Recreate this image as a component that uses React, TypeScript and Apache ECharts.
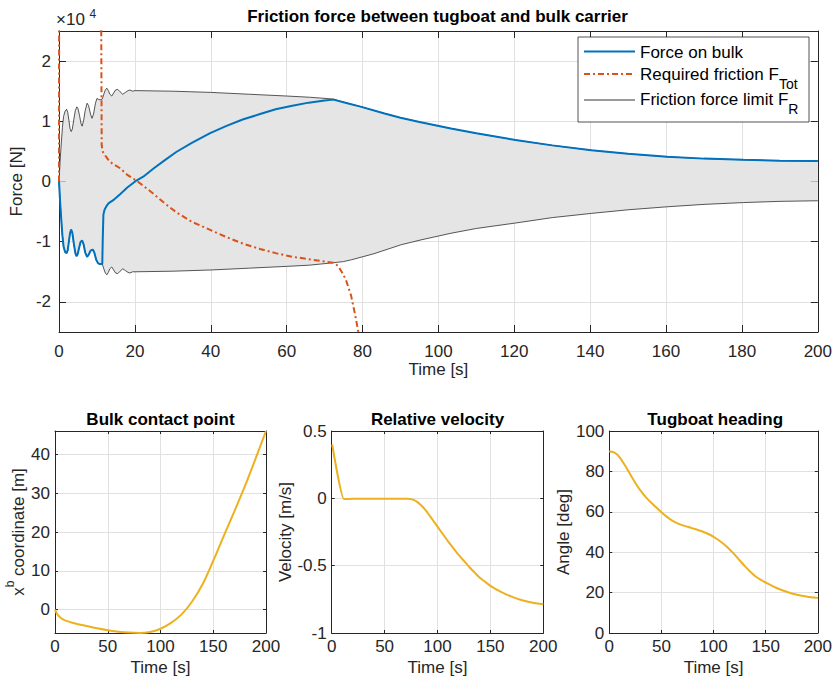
import React, { useEffect, useRef } from 'react';
import * as echarts from 'echarts';

const FONT = '"Liberation Sans", Arial, Helvetica, sans-serif';
const AX = '#262626';
const GRID = '#e1e1e1';

// ---- Top panel: friction force (N) ----
const bulkT = [0, 0.3, 0.6, 0.9, 1.2, 1.6, 2.0, 2.3, 2.6, 2.9, 3.2, 3.5, 3.9, 4.3, 4.6, 4.9, 5.3, 5.7, 6.1, 6.5, 6.9, 7.4, 7.8, 8.3, 8.9, 9.3, 9.8, 10.3, 10.8, 11.4, 11.55, 11.7, 12.0, 12.5, 13.1, 14.5, 16.1, 18, 20.5, 22.2, 25, 28, 30.9, 35, 39.7, 44, 48.4, 53, 57.1, 61.5, 65.8, 70, 72.3, 76, 79.7, 85.8, 90, 95, 103.3, 110, 120.3, 130, 140.3, 150, 160.3, 170, 180.4, 190, 200];
const bulkF = [0, -3500, -6400, -9000, -10800, -11700, -11900, -11400, -10000, -8600, -8000, -8500, -10300, -11900, -12400, -12100, -11000, -10000, -9800, -10500, -11800, -12500, -12200, -11500, -11300, -11800, -13000, -13600, -13700, -13700, -9000, -5500, -4700, -4100, -3600, -3000, -2100, -1000, 200, 800, 2200, 3600, 4900, 6400, 8000, 9200, 10300, 11200, 12000, 12600, 13100, 13450, 13600, 13000, 12400, 11300, 10600, 9900, 8800, 8000, 6900, 6000, 5200, 4600, 4100, 3800, 3600, 3450, 3400];

const reqT = [0, 0.03, 11.1, 11.25, 11.5, 11.8, 12.3, 13.0, 14.0, 16.1, 18.0, 20.5, 22.2, 24.8, 28, 30.9, 35, 39.7, 44, 48.4, 53, 57.1, 61.5, 65.8, 70, 72.3, 73.5, 74.5, 75.6, 77, 78, 78.9, 80];
const reqF = [0, 30000, 30000, 6000, 5000, 4600, 4200, 3600, 3000, 2200, 1100, 100, -700, -2000, -3700, -5100, -6700, -8000, -9200, -10300, -11200, -11900, -12500, -12900, -13300, -13500, -14000, -15000, -16300, -19000, -22000, -25000, -29000];

const limUpT = [0, 0.3, 0.6, 0.9, 1.2, 1.6, 2.0, 2.3, 2.6, 2.9, 3.2, 3.5, 3.9, 4.3, 4.7, 5.0, 5.4, 5.8, 6.1, 6.5, 6.9, 7.4, 7.8, 8.3, 8.7, 9.1, 9.6, 10.0, 10.5, 11.0, 11.4, 11.8, 12.2, 12.6, 13.0, 13.4, 13.9, 14.4, 14.9, 15.5, 16.1, 16.8, 17.5, 18.2, 18.7, 19.4, 20, 30, 40, 50, 60, 66, 72.3, 76, 79.7, 85.8, 90, 95, 103.3, 110, 120.3, 130, 140.3, 150, 160.3, 170, 180.4, 190, 200];
const limUpF = [0, 3500, 6400, 9000, 10800, 11700, 12000, 11500, 10200, 8800, 8300, 8700, 10300, 11800, 12400, 12100, 11000, 9600, 9200, 10200, 11800, 13000, 12600, 11200, 10500, 11200, 13000, 13800, 13600, 13600, 13700, 14500, 15200, 15500, 15100, 14500, 14200, 14700, 15200, 15300, 14900, 14500, 14800, 15100, 15200, 15000, 15100, 15000, 14800, 14500, 14200, 14000, 13700, 13000, 12400, 11300, 10600, 9900, 8800, 8000, 6900, 6000, 5200, 4600, 4100, 3800, 3600, 3450, 3400];

const limLoT = [0, 0.3, 0.6, 0.9, 1.2, 1.6, 2.0, 2.3, 2.6, 2.9, 3.2, 3.5, 3.9, 4.3, 4.6, 4.9, 5.3, 5.7, 6.1, 6.5, 6.9, 7.4, 7.8, 8.3, 8.9, 9.3, 9.8, 10.3, 10.8, 11.4, 11.8, 12.2, 12.6, 13.0, 13.4, 13.9, 14.4, 14.9, 15.5, 16.1, 16.8, 17.5, 18.2, 18.7, 19.4, 20, 30, 40, 50, 60, 66, 72.3, 75, 77.1, 83, 90.2, 95.4, 103.3, 110, 120.3, 130, 140.3, 150, 160.3, 170, 180.4, 190, 200];
const limLoF = [0, -3500, -6400, -9000, -10800, -11700, -11900, -11400, -10000, -8600, -8000, -8500, -10300, -11900, -12400, -12100, -11000, -10000, -9800, -10500, -11800, -12500, -12200, -11500, -11300, -11800, -13000, -13600, -13700, -13700, -14500, -15200, -15500, -15100, -14500, -14200, -14700, -15200, -15300, -14900, -14500, -14800, -15100, -15200, -15000, -15000, -14900, -14700, -14400, -14100, -13900, -13500, -13300, -13000, -12000, -10500, -9700, -8600, -7800, -6900, -6000, -5300, -4700, -4200, -3800, -3500, -3300, -3200];

// ---- Bottom panels ----
const contactT = [0, 2, 5, 10, 20, 30, 40, 50, 60, 70, 80, 90, 100, 110, 120, 130, 140, 150, 160, 170, 180, 190, 200];
const contactX = [0, -1.1, -2.0, -2.8, -3.6, -4.2, -4.8, -5.3, -5.65, -5.9, -6.0, -5.75, -4.9, -3.4, -1.2, 2.1, 6.6, 12.6, 19.0, 25.3, 31.8, 38.8, 46];

const velT = [0.5, 11.5, 20, 40, 60, 72, 75, 80, 85, 90, 95, 100, 105, 110, 115, 120, 125, 130, 135, 140, 145, 150, 160, 170, 180, 190, 200];
const velV = [0.40, -0.005, -0.004, -0.003, -0.003, -0.003, -0.006, -0.022, -0.055, -0.1, -0.155, -0.21, -0.265, -0.32, -0.37, -0.42, -0.465, -0.51, -0.55, -0.59, -0.62, -0.65, -0.695, -0.73, -0.757, -0.775, -0.786];

const headT = [0, 5, 10, 15, 20, 25, 30, 35, 40, 45, 50, 55, 60, 65, 70, 75, 80, 85, 90, 95, 100, 105, 110, 115, 120, 125, 130, 135, 140, 145, 150, 160, 170, 180, 190, 200];
const headA = [90, 89.3, 87, 83, 78.6, 74.3, 70.5, 67.3, 64.6, 62.2, 59.8, 57.6, 55.8, 54.4, 53.4, 52.6, 51.8, 51.0, 50.1, 49.0, 47.6, 45.9, 43.9, 41.6, 38.9, 36.0, 33.1, 30.4, 28.1, 26.4, 25.0, 22.4, 20.4, 18.9, 17.9, 17.3];

const zip = (t: number[], v: number[]) => t.map((x, i) => [x, v[i]]);

function axes(gi: number, c: any) {
  const common = {
    type: 'value', gridIndex: gi, min: c.min, max: c.max,
    axisLine: { show: true, onZero: false, lineStyle: { color: AX, width: 1 } },
    axisTick: { show: true, inside: true, length: c.tick, lineStyle: { color: AX, width: 1 } },
  };
  const label = { color: AX, fontSize: 17, fontFamily: FONT, margin: c.margin, showMinLabel: c.showEdge, showMaxLabel: c.showEdge, formatter: c.fmt };
  const primary = {
    ...common, position: c.pos0, interval: c.interval, splitNumber: c.split,
    axisLabel: label,
    splitLine: { show: true, lineStyle: { color: GRID, width: 1 } },
    name: c.name, nameLocation: 'middle', nameGap: c.nameGap,
    nameTextStyle: { color: AX, fontSize: 17, fontFamily: FONT, rich: c.rich },
  };
  const secondary = {
    ...common, position: c.pos1, interval: c.interval, splitNumber: c.split,
    axisLabel: { show: false }, splitLine: { show: false },
  };
  return [primary, secondary];
}

const lineS = (name: string, data: any, xi: number, color: string, width: number, extra: any = {}) => ({
  type: 'line', name, data, xAxisIndex: xi, yAxisIndex: xi, symbol: 'none', showSymbol: false,
  lineStyle: { color, width }, itemStyle: { color }, silent: true, ...extra,
});

export default function App() {
  const ref = useRef<HTMLDivElement>(null);
  useEffect(() => {
    if (!ref.current) return;
    const chart = echarts.init(ref.current, undefined, { renderer: 'svg' });
    const grids = [
      { left: 55, top: 31, width: 765, height: 301 },
      { left: 55, top: 431, width: 211, height: 202 },
      { left: 331.7, top: 431, width: 211.6, height: 202 },
      { left: 609.3, top: 431, width: 211.7, height: 202 },
    ];
    const xCfg = [
      { min: 0, max: 200, interval: 20, tick: 7, margin: 11, name: 'Time [s]', nameGap: 27, pos0: 'bottom', pos1: 'top', showEdge: true },
      { min: 0, max: 200, interval: 50, tick: 3, margin: 5, name: 'Time [s]', nameGap: 26, pos0: 'bottom', pos1: 'top', showEdge: true },
      { min: 0, max: 200, interval: 50, tick: 3, margin: 5, name: 'Time [s]', nameGap: 26, pos0: 'bottom', pos1: 'top', showEdge: true },
      { min: 0, max: 200, interval: 50, tick: 3, margin: 5, name: 'Time [s]', nameGap: 26, pos0: 'bottom', pos1: 'top', showEdge: true },
    ];
    const yCfg = [
      { min: -25000, max: 25000, split: 5, tick: 7, margin: 8, name: 'Force [N]', nameGap: 29, pos0: 'left', pos1: 'right', showEdge: false, fmt: (v: number) => String(Math.round(v / 1000) / 10) },
      { min: -6, max: 46, split: 5, tick: 3, margin: 5, name: '{m|x}{sup|b}{m| coordinate [m]}', nameGap: 13, pos0: 'left', pos1: 'right', showEdge: false,
        rich: { m: { fontSize: 17, lineHeight: 30, fontFamily: FONT, color: AX }, sup: { fontSize: 12, lineHeight: 13, verticalAlign: 'top', fontFamily: FONT, color: AX } } },
      { min: -1, max: 0.5, interval: 0.5, tick: 3, margin: 5, name: 'Velocity [m/s]', nameGap: 31, pos0: 'left', pos1: 'right', showEdge: true },
      { min: 0, max: 100, interval: 20, tick: 3, margin: 5, name: 'Angle [deg]', nameGap: 29, pos0: 'left', pos1: 'right', showEdge: true },
    ];
    const xAxis: any[] = [];
    const yAxis: any[] = [];
    for (let g = 0; g < 4; g++) {
      const xa = axes(g, xCfg[g]);
      const ya = axes(g, yCfg[g]);
      xAxis.push(xa[0], xa[1]);
      yAxis.push(ya[0], ya[1]);
    }
    const s = (name: string, data: any, g: number, color: string, width: number, extra: any = {}) => lineS(name, data, 2 * g, color, width, extra);
    const titleStyle = { fontSize: 17, fontWeight: 'bold', fontFamily: FONT, color: '#000' };
    const option: any = {
      animation: false,
      backgroundColor: '#fff',
      title: [
        { text: 'Friction force between tugboat and bulk carrier', left: 437.5, top: 8, textAlign: 'center', padding: 0, textStyle: titleStyle },
        { text: 'Bulk contact point', left: 160.5, top: 410.5, textAlign: 'center', padding: 0, textStyle: titleStyle },
        { text: 'Relative velocity', left: 437.5, top: 410.5, textAlign: 'center', padding: 0, textStyle: titleStyle },
        { text: 'Tugboat heading', left: 715.2, top: 410.5, textAlign: 'center', padding: 0, textStyle: titleStyle },
      ],
      grid: grids,
      xAxis, yAxis,
      series: [
        s('Friction force limit F_R', zip(limUpT, limUpF), 0, '#111', 0.7, { areaStyle: { color: '#e5e5e5', opacity: 1 }, z: 1 }),
        s('Friction force limit lower', zip(limLoT, limLoF), 0, '#111', 0.7, { areaStyle: { color: '#e5e5e5', opacity: 1 }, z: 1 }),
        s('Required friction F_Tot', zip(reqT, reqF), 0, '#D95319', 2, { lineStyle: { color: '#D95319', width: 2, type: [6, 3, 2, 3] }, z: 3 }),
        s('Force on bulk', zip(bulkT, bulkF), 0, '#0072BD', 2, { z: 4 }),
        s('Bulk contact point', zip(contactT, contactX), 1, '#EDB120', 2, { smooth: 0.3 }),
        s('Relative velocity', zip(velT, velV), 2, '#EDB120', 2, { smooth: 0.15 }),
        s('Tugboat heading', zip(headT, headA), 3, '#EDB120', 2, { smooth: 0.2 }),
      ],
      graphic: [
        { type: 'text', x: 56, y: 19.5, z: 100, style: { text: '×10', fontSize: 17, fontFamily: FONT, fill: AX, verticalAlign: 'middle' } },
        { type: 'text', x: 89.5, y: 13.5, z: 100, style: { text: '4', fontSize: 12, fontFamily: FONT, fill: AX, verticalAlign: 'middle' } },
        { type: 'rect', z: 100, shape: { x: 578, y: 37, width: 231, height: 85 }, style: { fill: '#fff', stroke: AX, lineWidth: 0.8 } },
        { type: 'line', z: 101, shape: { x1: 584, y1: 51.5, x2: 635, y2: 51.5 }, style: { stroke: '#0072BD', lineWidth: 2 } },
        { type: 'line', z: 101, shape: { x1: 584, y1: 74, x2: 635, y2: 74 }, style: { stroke: '#D95319', lineWidth: 2, lineDash: [6, 3, 2, 3] } },
        { type: 'line', z: 101, shape: { x1: 584, y1: 100, x2: 635, y2: 100 }, style: { stroke: '#000', lineWidth: 0.8 } },
        { type: 'text', z: 101, x: 640, y: 52.5, style: { text: 'Force on bulk', fontSize: 17, fontFamily: FONT, fill: '#000', verticalAlign: 'middle' } },
        { type: 'text', z: 101, x: 640, y: 74, style: { text: 'Required friction F{s|Tot}', fontSize: 17, lineHeight: 34, fontFamily: FONT, fill: '#000', verticalAlign: 'middle',
          rich: { s: { fontSize: 14, lineHeight: 14, verticalAlign: 'bottom', fontFamily: FONT, fill: '#000' } } } },
        { type: 'text', z: 101, x: 640, y: 99.2, style: { text: 'Friction force limit F{s|R}', fontSize: 17, lineHeight: 34, fontFamily: FONT, fill: '#000', verticalAlign: 'middle',
          rich: { s: { fontSize: 14, lineHeight: 14, verticalAlign: 'bottom', fontFamily: FONT, fill: '#000' } } } },
      ],
    };
    chart.setOption(option);
    return () => chart.dispose();
  }, []);
  return <div ref={ref} style={{ position: 'fixed', left: 0, top: 0, width: 835, height: 681, background: '#fff' }} />;
}
